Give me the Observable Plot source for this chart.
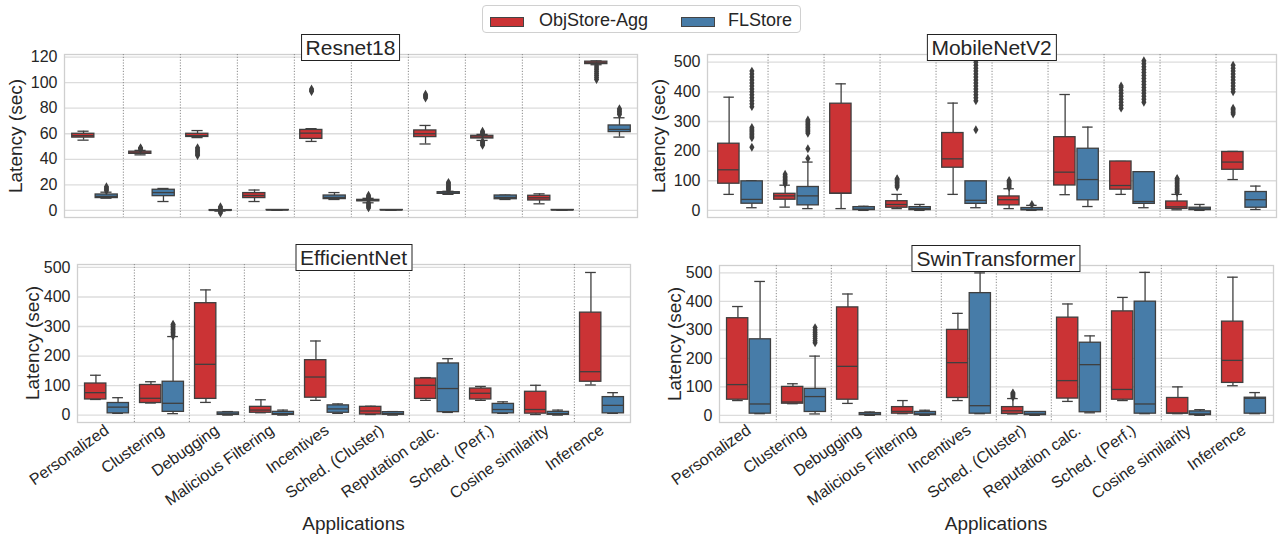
<!DOCTYPE html>
<html><head><meta charset="utf-8">
<script src="https://cdn.jsdelivr.net/npm/d3@7"></script>
<script src="https://cdn.jsdelivr.net/npm/@observablehq/plot@0.6"></script>
<style>
body{margin:0;background:#fff;font-family:"Liberation Sans",Arial,sans-serif;color:#262626}
#root{position:relative;width:1278px;height:538px;overflow:hidden}
.panel{position:absolute}
.panel svg{overflow:visible}
.title{position:absolute;border:1px solid #222;background:#fff;font-size:21px;line-height:25px;padding:0 4px;transform:translateX(-50%);white-space:nowrap;z-index:2}
.ylab{position:absolute;font-size:19px;transform:translate(-50%,-50%) rotate(-90deg);white-space:nowrap}
.xlab{position:absolute;font-size:19px;transform:translateX(-50%);white-space:nowrap}
.legend{position:absolute;left:482px;top:5px;width:319px;height:28px;border:1px solid #d0d0d0;border-radius:4px;box-sizing:border-box;background:#fff}
.sw{position:absolute;width:34px;height:10px;border:1px solid #444;box-sizing:border-box}
.lt{position:absolute;font-size:18px;line-height:20px}
</style></head><body><div id="root"></div><script>
// ---------- data ----------
const categories = ["Personalized","Clustering","Debugging","Malicious Filtering","Incentives","Sched. (Cluster)","Reputation calc.","Sched. (Perf.)","Cosine similarity","Inference"];
const seriesNames = ["ObjStore-Agg","FLStore"];
const seriesColors = ["#cb3335","#477ca8"];
const panelTitles = ["Resnet18","MobileNetV2","EfficientNet","SwinTransformer"];
const ticksSmall = [0,20,40,60,80,100,120];
const ticksLarge = [0,100,200,300,400,500];

// each entry: [whisker low, q1, median, q3, whisker high]
const resnetAgg = [[55,57,58.5,60,62],[43.5,44.3,45,46,47],[57,57.5,58.5,60,62.5],[7,9.7,11.7,13.6,16],[54,56,60.5,63,64],[6,7.2,7.8,8.3,9.5],[52,57.4,60,62.6,66.5],[54.8,56.3,57.4,58.4,59.5],[5.2,7.8,9.9,11.5,13],[114,114.5,115.5,116.4,117]];
const resnetFL = [[9.6,9.7,11,12.5,14.3],[7,11.2,14,16.2,17.2],[-0.5,-0.2,0,0.3,0.5],[0.1,0.2,0.3,0.4,0.5],[8.6,8.9,10.2,11.7,14],[0.1,0.2,0.3,0.4,0.5],[12.6,13,13.6,14.3,15],[8.6,8.8,10.2,11.7,12],[0.1,0.2,0.3,0.4,0.5],[57.4,61.3,63.4,66.5,72.5]];
const resnetAggOut = [[],[48,48.5,49],[43,44,45,46,47,48,49],[],[93,94,95],[2,3,4,5,6,9.5,10,11,12],[88,89,90,91],[51,52,53,54,60,61,62],[],[102.5,104,105.5,107,108.5,110,111.5,113]];
const resnetFLOut = [[15.5,16.5,17.5,18.5],[],[-2,-1,1,2,3],[],[],[],[16,17,18,19,20,21,22],[],[],[75,76.2,77.5,78.5,79.6]];

const mobileAgg = [[54,90,137,225,382],[11,36,49,56,85],[6,56,58,360,427],[6,9,20,31,54],[54,144,174,261,362],[6,17,36,47,73],[53,84,129,247,391],[54,70,84,165,165],[2,5,12,30,54],[104,137,163,197,199]];
const mobileFL = [[9,22.5,37,98,100],[6,17,49,79,163],[0,1,4,11,14],[0,1,6,11,20],[9,22,34,98,98],[0,0.5,3,8,17],[13,34,104,208,281],[9,22,30,129,129],[0,1,5,9,20],[3,9,36,62,82]];
const mobileAggOut = [[],[90,95,100,105,110,115,122],[],[79,84,89,94,99,104,107],[],[78,83,88,93,98,101],[],[345,355,365,375,385,395,405,415,420],[60,65,70,75,80,85,90,95,100,105,108],[325,330,335,340,345,400,410,420,430,440,450,460,470,480,490]];
const mobileFLOut = [[213,245,250,255,260,265,270,275,280,350,360,370,380,390,400,410,420,430,440,450,460,470],[175,208,260,265,270,275,280,285,290,295,300,305],[],[],[272,370,380,390,400,410,420,430,440,450,460,470,480,490,500],[20],[],[365,375,385,395,405,415,425,435,445,455,465,475,485,495,505],[],[]];

const effAgg = [[53,53,76,107,135],[41,41,57,102,113],[43,55,172,379,424],[8,8,17,28,52],[50,59,129,186,251],[2,2,14,28,30],[50,55,101,124,127],[50,53,74,90,97],[2,5,19,79,101],[102,113,147,347,483]];
const effFL = [[6,6,27,41,59],[5,11,40,113,266],[0,1,4,9,12],[0,1,5,11,17],[6,8,21,33,38],[0,1,5,10,12],[9,10,90,175,191],[6,6,19,38,45],[0,1,5,11,17],[6,6,33,61,76]];
const effAggOut = [[],[],[],[],[],[],[],[],[],[]];
const effFLOut = [[],[268,275,280,285,290,295,300,305,308],[],[],[],[],[],[],[],[]];

const swinAgg = [[52,55,108,341,382],[41,41,47,100,111],[42,55,172,379,426],[6,6,14,29,52],[52,61,185,300,358],[5,5,16,29,59],[49,59,122,343,391],[52,55,91,365,414],[6,6,8,61,100],[104,114,193,329,485]];
const swinFL = [[6,6,40,267,470],[5,12,66,93,208],[0,1,4,8,12],[0,1,5,12,18],[6,6,34,429,500],[0,1,5,12,12],[9,11,178,255,279],[6,6,40,399,502],[0,1,5,14,20],[6,6,60,62,80]];
const swinAggOut = [[],[],[],[],[],[64,68,72,76,79],[],[],[],[]];
const swinFLOut = [[],[255,262,270,278,285,292,300,308],[],[],[],[],[],[],[],[]];

// ---------- drawing ----------
const root = document.getElementById("root");
const edge = "#3f3f3f";
const lw = 1.3;

function boxMarks(R, O, color, side, W) {
  const off = side * 0.2 * W;
  const boxL = side < 0 ? 0.1 * W : 0.5 * W + 0.5;
  const boxR = side < 0 ? 0.5 * W + 0.5 : 0.1 * W;
  const capL = side < 0 ? 0.2 * W : 0.6 * W;
  const capR = side < 0 ? 0.6 * W : 0.2 * W;
  return [
    Plot.ruleX(R, {x: "cat", y1: "lo", y2: "q1", dx: off, stroke: edge, strokeWidth: lw}),
    Plot.ruleX(R, {x: "cat", y1: "q3", y2: "hi", dx: off, stroke: edge, strokeWidth: lw}),
    Plot.tickY(R, {x: "cat", y: "lo", insetLeft: capL, insetRight: capR, stroke: edge, strokeWidth: lw}),
    Plot.tickY(R, {x: "cat", y: "hi", insetLeft: capL, insetRight: capR, stroke: edge, strokeWidth: lw}),
    Plot.barY(R, {x: "cat", y1: "q1", y2: "q3", insetLeft: boxL, insetRight: boxR, fill: color, stroke: edge, strokeWidth: lw}),
    Plot.tickY(R, {x: "cat", y: "med", insetLeft: boxL, insetRight: boxR, stroke: edge, strokeWidth: lw}),
    Plot.dot(O, {x: "cat", y: "v", dx: off, symbol: "diamond", r: 2.7, fill: edge, stroke: "none"})
  ];
}

function drawPanel(c) {
  const W = (c.width - c.ml - c.mr) / categories.length;
  const rows = (arr, s) => arr.map((d, i) => ({cat: categories[i], series: s, lo: d[0], q1: d[1], med: d[2], q3: d[3], hi: d[4]}));
  const outs = (arr, s) => arr.flatMap((vs, i) => vs.map(v => ({cat: categories[i], series: s, v})));
  const A = rows(c.agg, seriesNames[0]), B = rows(c.fl, seriesNames[1]);
  const Ao = outs(c.aggOut, seriesNames[0]), Bo = outs(c.flOut, seriesNames[1]);
  const marks = [
    Plot.gridY(c.ticks, {stroke: "#dcdcdc", strokeOpacity: 1, strokeWidth: 1.3}),
    Plot.frame({stroke: "#cfcfcf", strokeWidth: 1.3}),
    Plot.ruleX(categories.slice(1), {dx: -W / 2, stroke: "#8a8a8a", strokeDasharray: "1.2,1.6", strokeWidth: 1}),
    Plot.axisY(c.ticks, {tickSize: 0, tickPadding: 7, label: null, fontSize: 16}),
    ...boxMarks(A, Ao, seriesColors[0], -1, W),
    ...boxMarks(B, Bo, seriesColors[1], 1, W)
  ];
  if (c.showX) marks.push(Plot.axisX({tickSize: 0, tickPadding: 6, tickRotate: -35, label: null, fontSize: 16}));
  const chart = Plot.plot({
    width: c.width, height: c.height,
    marginLeft: c.ml, marginRight: c.mr, marginTop: c.mt, marginBottom: c.mb,
    x: {type: "band", domain: categories, padding: 0, axis: c.showX ? undefined : null},
    y: {domain: c.yDomain, axis: null},
    style: {fontFamily: "'Liberation Sans', Arial, sans-serif", fontSize: "16px", color: "#262626", background: "transparent", overflow: "visible"},
    marks
  });
  const div = document.createElement("div");
  div.className = "panel";
  div.style.left = c.left + "px"; div.style.top = c.top + "px";
  div.appendChild(chart);
  root.appendChild(div);

  const fx0 = c.left + c.ml, fx1 = c.left + c.width - c.mr;
  const fy0 = c.top + c.mt, fy1 = c.top + c.height - c.mb;
  const t = document.createElement("div");
  t.className = "title"; t.textContent = c.title;
  t.style.left = ((fx0 + fx1) / 2) + "px"; t.style.top = (fy0 - 20) + "px";
  root.appendChild(t);
  const yl = document.createElement("div");
  yl.className = "ylab"; yl.textContent = "Latency (sec)";
  yl.style.left = (fx0 - c.ylabOff) + "px"; yl.style.top = ((fy0 + fy1) / 2) + "px";
  root.appendChild(yl);
  if (c.showX) {
    const xl = document.createElement("div");
    xl.className = "xlab"; xl.textContent = "Applications";
    xl.style.left = ((fx0 + fx1) / 2) + "px"; xl.style.top = "513px";
    root.appendChild(xl);
  }
}

drawPanel({left: 0, top: 40, width: 645, height: 185, ml: 64, mr: 8, mt: 14, mb: 8, agg: resnetAgg, fl: resnetFL, aggOut: resnetAggOut, flOut: resnetFLOut, yDomain: [-5.5, 122], ticks: ticksSmall, showX: false, title: panelTitles[0], ylabOff: 48});
drawPanel({left: 645, top: 40, width: 633, height: 185, ml: 62, mr: 2, mt: 14, mb: 8, agg: mobileAgg, fl: mobileFL, aggOut: mobileAggOut, flOut: mobileFLOut, yDomain: [-24, 526], ticks: ticksLarge, showX: false, title: panelTitles[1], ylabOff: 48});
drawPanel({left: 0, top: 250, width: 645, height: 265, ml: 77, mr: 15, mt: 14, mb: 93, agg: effAgg, fl: effFL, aggOut: effAggOut, flOut: effFLOut, yDomain: [-25, 510], ticks: ticksLarge, showX: true, title: panelTitles[2], ylabOff: 44});
drawPanel({left: 645, top: 250, width: 633, height: 265, ml: 74, mr: 5, mt: 15, mb: 93, agg: swinAgg, fl: swinFL, aggOut: swinAggOut, flOut: swinFLOut, yDomain: [-25, 526], ticks: ticksLarge, showX: true, title: panelTitles[3], ylabOff: 44});

// legend
const lg = document.createElement("div");
lg.className = "legend";
seriesNames.forEach((s, i) => {
  const sw = document.createElement("div");
  sw.className = "sw"; sw.style.background = seriesColors[i];
  sw.style.left = (i === 0 ? 7 : 198) + "px"; sw.style.top = "11px";
  lg.appendChild(sw);
  const tx = document.createElement("div");
  tx.className = "lt"; tx.textContent = s;
  tx.style.left = (i === 0 ? 56 : 245) + "px"; tx.style.top = "4px";
  lg.appendChild(tx);
});
root.appendChild(lg);
</script></body></html>
